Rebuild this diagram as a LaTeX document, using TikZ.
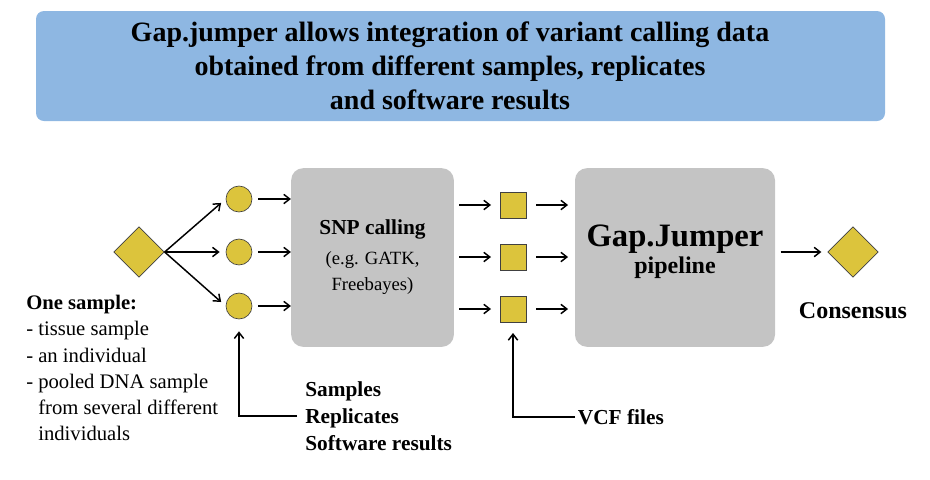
\documentclass[tikz,border=0pt]{standalone}
\usepackage{fontspec}
\setmainfont{Liberation Serif}
\usetikzlibrary{shapes.geometric}
\usetikzlibrary {arrows.meta}
\tikzset{>={Straight Barb[length=4.5pt,width=7pt]}}
\definecolor{titleblue}{RGB}{142,183,226}
\definecolor{boxgray}{RGB}{196,196,196}
\definecolor{markyellow}{RGB}{220,196,60}

\begin{document}
\begin{tikzpicture}[x=0.75pt, y=-0.75pt,
	arrow/.style={->, line width=1.1pt},
	marker/.style={draw=black!75, line width=0.5pt, fill=markyellow, inner sep=0pt},
	sample/.style={marker, diamond, minimum size=38pt},
	rep/.style={marker, circle, minimum size=19.5pt},
	vcf/.style={marker, rectangle, minimum size=19.5pt},
	stage/.style={fill=boxgray, rounded corners=9pt, minimum height=134pt, align=center},
	sidetext/.style={font=\bfseries\fontsize{16}{20.25}\selectfont, align=left}]
\useasboundingbox (0,0) rectangle (930,479);

\node[fill=titleblue, rounded corners=6pt, minimum width=636.75pt, minimum height=82.5pt] (banner) at (460.5,66) {};
\node[font=\bfseries\fontsize{21}{25.5}\selectfont, align=center] (title) at (450,66)
	{Gap.jumper allows integration of variant calling data\\obtained from different samples, replicates\\and software results};

\node[sample] (input) at (139,252) {};
\foreach \i/\y in {1/199, 2/252, 3/306}
	\node[rep] (c\i) at (239,\y) {};
\foreach \i/\y in {1/205, 2/257, 3/309}
	\node[vcf] (v\i) at (513,\y) {};

\node[stage, minimum width=122pt, font=\fontsize{14}{19.5}\selectfont] (snp) at (372.5,257.5)
	{{\bfseries\fontsize{16}{19.5}\selectfont SNP calling}\\[3pt](e.g. GATK,\\Freebayes)};
\node[stage, minimum width=150pt, text depth=12pt, font=\bfseries\fontsize{18}{20}\selectfont] (gj) at (675,257.5)
	{{\fontsize{24.5}{20}\selectfont Gap.Jumper}\\pipeline};

\node[sample] (consensus) at (853,252) {};
\node[font=\bfseries\fontsize{18}{22}\selectfont] (constext) at (853,311) {Consensus};

\foreach \i in {1,2,3} {
	\draw[arrow, shorten >=4.5pt] (input.east) -- (c\i.west);
	\draw[arrow, shorten <=4.5pt] (c\i.east) -- (snp.west |- c\i);
	\draw[arrow, shorten <=4pt, shorten >=6.5pt] (snp.east |- v\i) -- (v\i.west);
	\draw[arrow, shorten <=7.5pt, shorten >=5pt] (v\i.east) -- (gj.west |- v\i);
}
\draw[arrow, shorten <=4pt, shorten >=4.5pt] (gj.east |- consensus) -- (consensus.west);

\node[anchor=north west, align=left, inner sep=0pt, font=\fontsize{15.5}{19.65}\selectfont] (onesample) at (26,295)
	{\textbf{One sample:}\\- tissue sample\\- an individual\\- pooled DNA sample\\\phantom{- }from several different\\\phantom{- }individuals};

\node[sidetext, anchor=west, inner sep=6pt] (kinds) at (297,416) {Samples\\Replicates\\Software results};
\draw[arrow, shorten >=9pt] (kinds.west) -| (c3.south);

\node[sidetext, anchor=west, inner sep=2pt] (vcffiles) at (575,417) {VCF files};
\draw[arrow, shorten >=8pt] (vcffiles.west) -| (v3.south);
\end{tikzpicture}
\end{document}
